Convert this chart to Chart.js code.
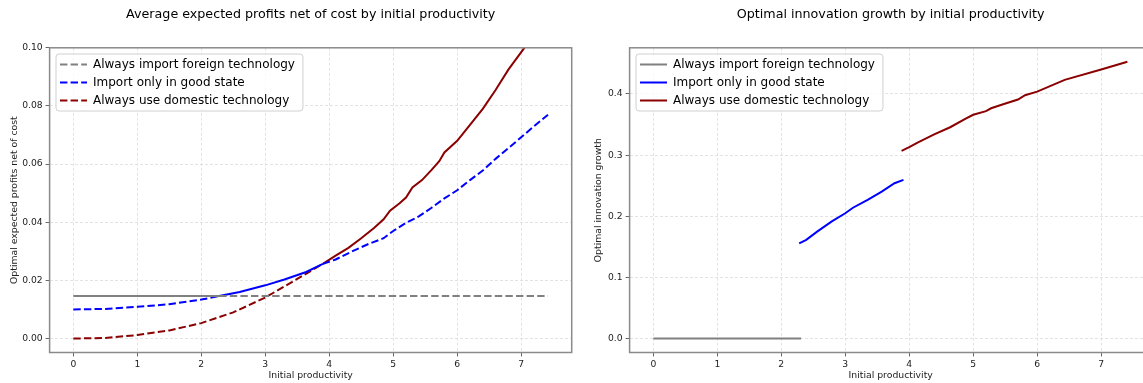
<!DOCTYPE html>
<html>
<head>
<meta charset="utf-8">
<script src="https://cdn.jsdelivr.net/npm/chart.js@4/dist/chart.umd.min.js"></script>
<style>
  html, body { margin: 0; padding: 0; background: #fff; overflow: hidden; width: 1143px; height: 383px; }
  .panel { position: absolute; top: 0; width: 580px; height: 383px; }
</style>
</head>
<body>
<div class="panel" style="left:0"><canvas id="profits" width="580" height="383"></canvas></div>
<div class="panel" style="left:580px"><canvas id="growth" width="580" height="383"></canvas></div>
<script>
const seriesLabels = ["Always import foreign technology", "Import only in good state", "Always use domestic technology"];
const seriesColors = ["#808080", "#0000ff", "#8b0000"];

const xTicks = [0, 1, 2, 3, 4, 5, 6, 7];
const profitTicks = [0, 0.02, 0.04, 0.06, 0.08, 0.10];
const growthTicks = [0, 0.1, 0.2, 0.3, 0.4];

// left panel: expected profits net of cost
const foreignProfitX = [0, 2.28, 7.42];
const foreignProfitY = [0.0146, 0.0146, 0.0146];
const goodStateProfitX = [0, 0.5, 1, 1.5, 2, 2.28, 2.6, 3, 3.3, 3.64, 3.9, 4.1, 4.34, 4.62, 4.85, 5, 5.2, 5.4, 5.6, 5.8, 6, 6.2, 6.4, 6.6, 6.8, 7, 7.2, 7.42];
const goodStateProfitY = [0.0100, 0.0102, 0.0109, 0.0118, 0.0134, 0.0146, 0.0160, 0.0183, 0.0203, 0.0229, 0.0257, 0.0272, 0.0298, 0.0326, 0.0345, 0.0370, 0.0398, 0.0420, 0.0450, 0.0482, 0.0510, 0.0545, 0.0578, 0.0618, 0.0655, 0.0692, 0.0730, 0.0770];
const domesticProfitX = [0, 0.5, 1, 1.5, 2, 2.5, 3, 3.5, 3.9, 4.1, 4.3, 4.5, 4.7, 4.85, 4.95, 5.1, 5.2, 5.3, 5.45, 5.6, 5.72, 5.8, 6, 6.2, 6.4, 6.6, 6.8, 7.05, 7.2, 7.42];
const domesticProfitY = [0, 0.0002, 0.0012, 0.0028, 0.0053, 0.0090, 0.0141, 0.0205, 0.0257, 0.0285, 0.0312, 0.0345, 0.0380, 0.0410, 0.0440, 0.0465, 0.0485, 0.0520, 0.0545, 0.0580, 0.0610, 0.0640, 0.0680, 0.0735, 0.0790, 0.0855, 0.0925, 0.1000, 0.1045, 0.1110];
// x range where each policy is the best one (drawn solid)
const optimalRanges = [[0, 2.28], [2.28, 3.9], [3.9, 7.42]];

// right panel: optimal innovation growth
const foreignGrowthX = [0, 2.31];
const foreignGrowthY = [0, 0];
const goodStateGrowthX = [2.28, 2.39, 2.56, 2.79, 3.0, 3.12, 3.35, 3.57, 3.77, 3.91];
const goodStateGrowthY = [0.1556, 0.1616, 0.1750, 0.1916, 0.2050, 0.2140, 0.2270, 0.2405, 0.2540, 0.2596];
const domesticGrowthX = [3.88, 4.0, 4.13, 4.39, 4.64, 4.89, 5.0, 5.2, 5.28, 5.48, 5.7, 5.81, 6.0, 6.43, 7.0, 7.41];
const domesticGrowthY = [0.307, 0.313, 0.3205, 0.334, 0.3456, 0.360, 0.366, 0.372, 0.3766, 0.3837, 0.391, 0.398, 0.4038, 0.423, 0.440, 0.4528];

Chart.defaults.font.family = "DejaVu Sans";
Chart.defaults.color = "#222";

const pts = (xs, ys) => xs.map((x, i) => ({ x: x, y: ys[i] }));
const DASH = [7.4, 3.2];

// box around the plot + legend frame
const frame = {
  id: "frame",
  afterLayout(chart) {
    const lg = chart.legend;
    const a = chart.chartArea;
    lg.left = a.left + 4.4;
    lg.top = a.top + 4.6;
    lg.right = lg.left + lg.width;
    lg.bottom = a.bottom;
    if (!lg._framed) {
      const draw = lg.draw;
      lg.draw = function () {
        const ctx = this.ctx;
        const f = this.options.labels.font;
        ctx.save();
        ctx.font = f.size + "px " + (f.family || Chart.defaults.font.family);
        const tw = Math.max(...this.legendItems.map(it => ctx.measureText(it.text).width));
        const n = this.legendItems.length;
        ctx.beginPath();
        ctx.roundRect(this.left + 2, this.top + 1.6, 45 + tw, 21 + (n - 1) * 18, 3);
        ctx.fillStyle = "rgba(255,255,255,0.8)";
        ctx.fill();
        ctx.strokeStyle = "#d0d0d0";
        ctx.lineWidth = 1;
        ctx.stroke();
        ctx.restore();
        draw.call(this);
      };
      lg._framed = true;
    }
  },
  afterDraw(chart) {
    const a = chart.chartArea;
    const ctx = chart.ctx;
    ctx.save();
    ctx.strokeStyle = "#8a8a8a";
    ctx.lineWidth = 1.5;
    ctx.strokeRect(a.left, a.top, a.right - a.left, a.bottom - a.top);
    ctx.restore();
  }
};

function makeChart(id, title, yTitle, yTitlePad, datasets, yMin, yMax, yTicks, decimals) {
  new Chart(document.getElementById(id), {
    type: "line",
    data: { datasets: datasets },
    options: {
      responsive: false,
      animation: false,
      events: [],
      layout: { padding: { left: 0, right: 8.3, top: 0, bottom: 0 } },
      elements: { point: { radius: 0 }, line: { tension: 0, borderWidth: 2 } },
      scales: {
        x: {
          type: "linear",
          min: -0.371,
          max: 7.79,
          afterBuildTicks: s => { s.ticks = xTicks.map(v => ({ value: v })); },
          afterFit: s => { s.height = 30.5; },
          ticks: { font: { size: 9.2 }, color: "#222", padding: 3, maxRotation: 0, callback: v => String(v) },
          grid: { color: "#dcdcdc", lineWidth: 0.8, tickColor: "#666", tickLength: 4, tickWidth: 1 },
          border: { display: false, dash: [3, 2] },
          title: { display: true, text: "Initial productivity", font: { size: 9.3 }, color: "#222", padding: { top: 0, bottom: 1.6 } }
        },
        y: {
          min: yMin,
          max: yMax,
          afterBuildTicks: s => { s.ticks = yTicks.map(v => ({ value: v })); },
          afterFit: s => { s.width = 49.6; },
          ticks: { font: { size: 9.2 }, color: "#222", padding: 3, callback: v => Number(v).toFixed(decimals) },
          grid: { color: "#dcdcdc", lineWidth: 0.8, tickColor: "#666", tickLength: 4, tickWidth: 1 },
          border: { display: false, dash: [3, 2] },
          title: { display: true, text: yTitle, font: { size: 9.3 }, color: "#222", padding: { top: yTitlePad, bottom: 0 } }
        }
      },
      plugins: {
        title: {
          display: true,
          text: title,
          fullSize: false,
          color: "#000",
          font: { size: 12.7, weight: "normal" },
          padding: { top: 7.5, bottom: 25.06 }
        },
        legend: {
          position: "chartArea",
          align: "start",
          labels: {
            usePointStyle: true,
            pointStyle: "line",
            pointStyleWidth: 27,
            padding: 6,
            color: "#000",
            font: { size: 12 },
            generateLabels: chart => Chart.defaults.plugins.legend.labels.generateLabels(chart).map(it => {
              const ds = chart.data.datasets[it.datasetIndex];
              return Object.assign(it, { lineDash: ds.borderDash || [], lineWidth: 2, strokeStyle: ds.borderColor });
            })
          }
        },
        tooltip: { enabled: false }
      }
    },
    plugins: [frame]
  });
}

function inOptimal(k) {
  return c => {
    const r = optimalRanges[k];
    return (c.p0.parsed.x >= r[0] - 1e-6 && c.p1.parsed.x <= r[1] + 1e-6) ? [] : undefined;
  };
}

const profitXs = [foreignProfitX, goodStateProfitX, domesticProfitX];
const profitYs = [foreignProfitY, goodStateProfitY, domesticProfitY];
makeChart("profits",
  "Average expected profits net of cost by initial productivity",
  "Optimal expected profits net of cost", 8.6,
  seriesLabels.map((label, k) => ({
    label: label,
    data: pts(profitXs[k], profitYs[k]),
    borderColor: seriesColors[k],
    backgroundColor: seriesColors[k],
    borderDash: DASH,
    segment: { borderDash: inOptimal(k) },
    clip: 0
  })),
  -0.0048, 0.10, profitTicks, 2);

const growthXs = [foreignGrowthX, goodStateGrowthX, domesticGrowthX];
const growthYs = [foreignGrowthY, goodStateGrowthY, domesticGrowthY];
makeChart("growth",
  "Optimal innovation growth by initial productivity",
  "Optimal innovation growth", 12.6,
  seriesLabels.map((label, k) => ({
    label: label,
    data: pts(growthXs[k], growthYs[k]),
    borderColor: seriesColors[k],
    backgroundColor: seriesColors[k],
    clip: 0
  })),
  -0.0227, 0.4755, growthTicks, 1);
</script>
</body>
</html>
